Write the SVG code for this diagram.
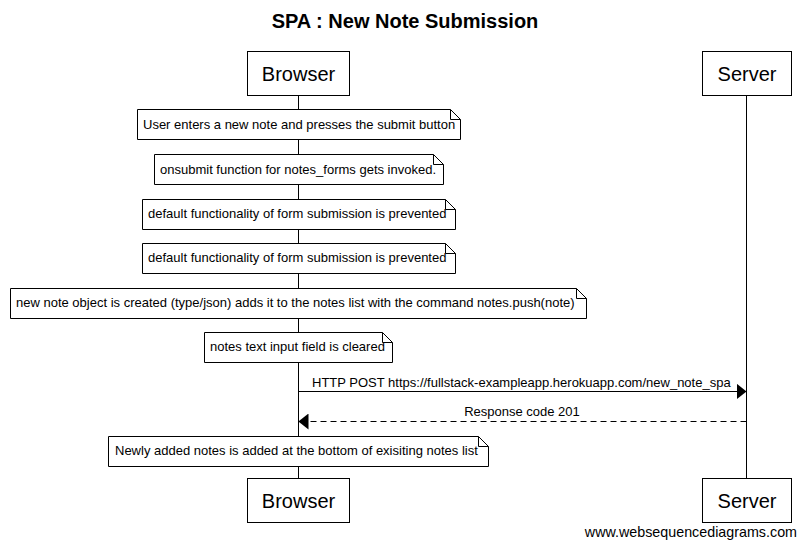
<svg xmlns="http://www.w3.org/2000/svg" width="805" height="548" viewBox="0 0 805 548">
<style>
.box{fill:#fff;stroke:#000;stroke-width:1}
.note{fill:#fff;stroke:#000;stroke-width:1}
.fold{fill:none;stroke:#000;stroke-width:1}
.pt{font-family:"Liberation Sans",Arial,sans-serif;font-size:20px;fill:#000;text-anchor:middle}
.nt{font-family:"Liberation Sans",Arial,sans-serif;font-size:13px;fill:#000}
.lt{font-family:"Liberation Sans",Arial,sans-serif;font-size:13px;fill:#000}
.life{stroke:#000;stroke-width:1}
.msg{stroke:#000;stroke-width:1;fill:none}
</style>
<defs>
<marker id="ah" viewBox="0 0 10 16" refX="10" refY="8" markerWidth="10" markerHeight="16" markerUnits="userSpaceOnUse" orient="auto">
<path d="M0,0 L10,8 L0,16 Z" fill="#000"/>
</marker>
</defs>
<rect width="805" height="548" fill="#fff"/>
<text x="405" y="28" font-family="'Liberation Sans',Arial,sans-serif" font-size="20" font-weight="bold" text-anchor="middle">SPA : New Note Submission</text>
<g id="lifelines">
<line class="life" x1="298.5" y1="96" x2="298.5" y2="478"/>
<line class="life" x1="746.5" y1="96" x2="746.5" y2="478"/>
</g>
<g id="browser-top"><rect class="box" x="247.5" y="51.5" width="102" height="44"/><text class="pt" x="298.5" y="81">Browser</text></g>
<g id="server-top"><rect class="box" x="702.5" y="51.5" width="89" height="44"/><text class="pt" x="747" y="81">Server</text></g>
<g id="browser-bottom"><rect class="box" x="247.5" y="478.5" width="102" height="44"/><text class="pt" x="298.5" y="508">Browser</text></g>
<g id="server-bottom"><rect class="box" x="702.5" y="478.5" width="89" height="44"/><text class="pt" x="747" y="508">Server</text></g>
<g id="note1"><path class="note" d="M137.5,109.5 H450.5 L460.5,119.5 V139.5 H137.5 Z"/><path class="fold" d="M450.5,109.5 V119.5 H460.5"/><text class="nt" x="143" y="129">User enters a new note and presses the submit button</text></g>
<g id="note2"><path class="note" d="M154.5,154.5 H433.5 L443.5,164.5 V184.5 H154.5 Z"/><path class="fold" d="M433.5,154.5 V164.5 H443.5"/><text class="nt" x="160" y="174">onsubmit function for notes_forms gets invoked.</text></g>
<g id="note3"><path class="note" d="M142.5,199.5 H445.5 L455.5,209.5 V229.5 H142.5 Z"/><path class="fold" d="M445.5,199.5 V209.5 H455.5"/><text class="nt" x="148" y="218">default functionality of form submission is prevented</text></g>
<g id="note4"><path class="note" d="M142.5,243.5 H445.5 L455.5,253.5 V273.5 H142.5 Z"/><path class="fold" d="M445.5,243.5 V253.5 H455.5"/><text class="nt" x="148" y="262">default functionality of form submission is prevented</text></g>
<g id="note5"><path class="note" d="M10.5,288.5 H576.5 L586.5,298.5 V318.5 H10.5 Z"/><path class="fold" d="M576.5,288.5 V298.5 H586.5"/><text class="nt" x="16" y="307">new note object is created (type/json) adds it to the notes list with the command notes.push(note)</text></g>
<g id="note6"><path class="note" d="M204.5,332.5 H382.5 L392.5,342.5 V362.5 H204.5 Z"/><path class="fold" d="M382.5,332.5 V342.5 H392.5"/><text class="nt" x="210" y="351">notes text input field is cleared</text></g>
<g id="note7"><path class="note" d="M108.5,436.5 H478.5 L488.5,446.5 V466.5 H108.5 Z"/><path class="fold" d="M478.5,436.5 V446.5 H488.5"/><text class="nt" x="115" y="455">Newly added notes is added at the bottom of exisiting notes list</text></g>
<g id="connectors">
<line class="msg" x1="298.5" y1="391.5" x2="746.5" y2="391.5" marker-end="url(#ah)"/>
<text class="lt" x="312" y="387">HTTP POST https://fullstack-exampleapp.herokuapp.com/new_note_spa</text>
<line class="msg" x1="746.5" y1="421.5" x2="298.5" y2="421.5" stroke-dasharray="6,4" marker-end="url(#ah)"/>
<text class="lt" x="522" y="416" text-anchor="middle">Response code 201</text>
</g>
<text x="797" y="537" font-family="'Liberation Sans',Arial,sans-serif" font-size="14.3" text-anchor="end">www.websequencediagrams.com</text>
</svg>
